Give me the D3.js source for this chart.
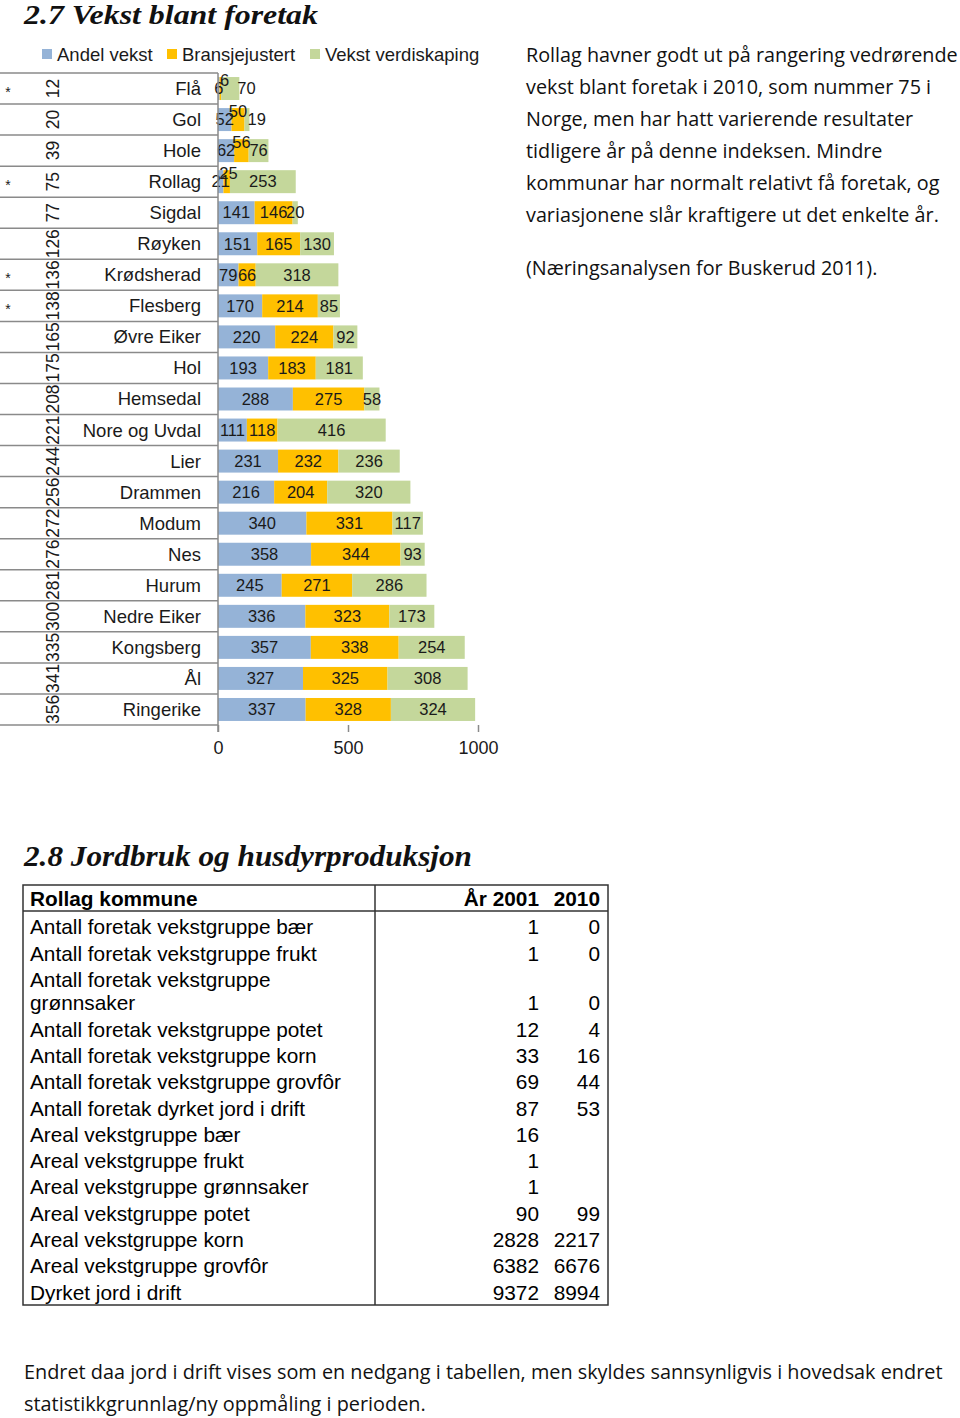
<!DOCTYPE html>
<html><head><meta charset="utf-8">
<script src="https://cdnjs.cloudflare.com/ajax/libs/d3/7.8.5/d3.min.js"></script>
<style>body{margin:0;background:#fff}</style>
</head><body><svg id="c" width="960" height="1418"></svg>
<script>
// ---------- Data: 2.7 Vekst blant foretak ----------
const kommuner = ["Flå","Gol","Hole","Rollag","Sigdal","Røyken","Krødsherad","Flesberg","Øvre Eiker","Hol","Hemsedal","Nore og Uvdal","Lier","Drammen","Modum","Nes","Hurum","Nedre Eiker","Kongsberg","Ål","Ringerike"];
const rangering = [12,20,39,75,77,126,136,138,165,175,208,221,244,256,272,276,281,300,335,341,356];
const stjerne = ["*","","","*","","","*","*","","","","","","","","","","","","",""];
const andelVekst = [6,52,62,21,141,151,79,170,220,193,288,111,231,216,340,358,245,336,357,327,337];
const bransjejustert = [6,50,56,25,146,165,66,214,224,183,275,118,232,204,331,344,271,323,338,325,328];
const vekstVerdiskaping = [70,19,76,253,20,130,318,85,92,181,58,416,236,320,117,93,286,173,254,308,324];
const serieNavn = ["Andel vekst","Bransjejustert","Vekst verdiskaping"];
const xTicks = [0,500,1000];

// ---------- Data: 2.8 Jordbruk og husdyrproduksjon ----------
const tabellRader = [
  ["Antall foretak vekstgruppe bær"],
  ["Antall foretak vekstgruppe frukt"],
  ["Antall foretak vekstgruppe","grønnsaker"],
  ["Antall foretak vekstgruppe potet"],
  ["Antall foretak vekstgruppe korn"],
  ["Antall foretak vekstgruppe grovfôr"],
  ["Antall foretak dyrket jord i drift"],
  ["Areal vekstgruppe bær"],
  ["Areal vekstgruppe frukt"],
  ["Areal vekstgruppe grønnsaker"],
  ["Areal vekstgruppe potet"],
  ["Areal vekstgruppe korn"],
  ["Areal vekstgruppe grovfôr"],
  ["Dyrket jord i drift"]
];
const aar2001 = [1,1,1,12,33,69,87,16,1,1,90,2828,6382,9372];
const aar2010 = [0,0,0,4,16,44,53,null,null,null,99,2217,6676,8994];
const tabellHode = ["Rollag kommune","År 2001","2010"];

const tekst1 = [
  "Rollag havner godt ut på rangering vedrørende",
  "vekst blant foretak i 2010, som nummer 75 i",
  "Norge, men har hatt varierende resultater",
  "tidligere år på denne indeksen. Mindre",
  "kommunar har normalt relativt få foretak, og",
  "variasjonene slår kraftigere ut det enkelte år."
];
const kilde = "(Næringsanalysen for Buskerud 2011).";
const tekst2 = [
  "Endret daa jord i drift vises som en nedgang i tabellen, men skyldes sannsynligvis i hovedsak endret",
  "statistikkgrunnlag/ny oppmåling i perioden."
];

// ---------- Drawing ----------
const svg = d3.select("#c");
const sans = "'Liberation Sans', Arial, sans-serif";
const serif = "'Liberation Serif', 'DejaVu Serif', serif";
const body = "'Open Sans', Lato, sans-serif";
const colors = ["#95B3D7","#FFC000","#C4D79B"];
const txt = "#1a1a1a";

// fit a paragraph font size so that a reference line gets a target width
function fitSize(family, sample, target, base){
  const t = svg.append("text").attr("font-family",family).attr("font-size",base).text(sample);
  const w = t.node().getComputedTextLength(); t.remove();
  return base*target/w;
}

svg.append("text").attr("x",24).attr("y",24)
  .attr("font-family",serif).attr("font-weight","bold").attr("font-style","italic")
  .attr("font-size",26.5).attr("fill","#111").attr("textLength",294).attr("lengthAdjust","spacingAndGlyphs")
  .text("2.7 Vekst blant foretak");

// legend
const legX = [42,167,310];
serieNavn.forEach((n,i)=>{
  svg.append("rect").attr("x",legX[i]).attr("y",49).attr("width",10).attr("height",10).attr("fill",colors[i]);
  svg.append("text").attr("x",legX[i]+15).attr("y",61).attr("font-family",sans).attr("font-size",18.5)
    .attr("fill",txt).text(n);
});

const x = d3.scaleLinear().domain([0,1000]).range([218,478]);
const y = d3.scaleBand().domain(kommuner).range([73,725]).paddingInner(0.26).paddingOuter(0.13);

const rows = kommuner.map((k,i)=>({k, a:andelVekst[i], b:bransjejustert[i], c:vekstVerdiskaping[i]}));
const stack = d3.stack().keys(["a","b","c"])(rows);

// row separator lines
const step = y.step();
d3.range(kommuner.length+1).forEach(i=>{
  const yy = y.range()[0] + i*step;
  svg.append("line").attr("x1",0).attr("x2",x(0)).attr("y1",yy).attr("y2",yy)
    .attr("stroke","#8a8a8a").attr("stroke-width",1.5);
});

// bars
stack.forEach((s,si)=>{
  svg.append("g").selectAll("rect").data(s).join("rect")
    .attr("x",d=>x(d[0])).attr("width",d=>x(d[1])-x(d[0]))
    .attr("y",d=>y(d.data.k)).attr("height",y.bandwidth())
    .attr("fill",colors[si]);
});

// bar labels
stack.forEach((s,si)=>{
  svg.append("g").selectAll("text").data(s).join("text")
    .attr("font-family",sans).attr("font-size",16.5).attr("fill",txt)
    .attr("dy","0.35em")
    .each(function(d){
      const w = x(d[1])-x(d[0]);
      let cx = (x(d[0])+x(d[1]))/2, cy = y(d.data.k)+y.bandwidth()/2, anchor="middle";
      if (si===1 && w<16) { cy -= 8; cx = Math.max(cx, x(d[0])+5); }
      if (si===2 && d[1]<150) { cx = x(d[1])-2; anchor="start"; }
      d3.select(this).attr("x",cx).attr("y",cy).attr("text-anchor",anchor).text(d[1]-d[0]);
    });
});

// category labels
kommuner.forEach((k,i)=>{
  const cy = y(k)+y.bandwidth()/2;
  svg.append("text").attr("x",201).attr("y",cy).attr("dy","0.35em").attr("text-anchor","end")
    .attr("font-family",sans).attr("font-size",18.5).attr("fill",txt).text(k);
  svg.append("text").attr("transform",`translate(53,${cy}) rotate(-90)`).attr("dy","0.35em")
    .attr("text-anchor","middle").attr("font-family",sans).attr("font-size",17.5).attr("fill",txt).text(rangering[i]);
  if (stjerne[i]) svg.append("text").attr("x",8).attr("y",cy+8).attr("text-anchor","middle")
    .attr("font-family",sans).attr("font-size",14).attr("fill",txt).text(stjerne[i]);
});

// axes
svg.append("line").attr("x1",x(0)).attr("x2",x(0)).attr("y1",73).attr("y2",732)
  .attr("stroke","#8a8a8a").attr("stroke-width",1.5);
const ax = svg.append("g").attr("transform","translate(0,725)")
  .call(d3.axisBottom(x).tickValues(xTicks).tickSize(7).tickPadding(9).tickFormat(d3.format("d")));
ax.select(".domain").remove();
ax.selectAll("line").attr("stroke","#8a8a8a").attr("stroke-width",1.5);
ax.selectAll("text").attr("font-family",sans).attr("font-size",18).attr("fill",txt);

// right paragraph
const fs1 = fitSize(body, tekst1[0], 432, 20);
tekst1.forEach((t,i)=>{
  svg.append("text").attr("x",526).attr("y",62+i*32).attr("font-family",body).attr("font-size",fs1)
    .attr("fill","#111").text(t);
});
svg.append("text").attr("x",526).attr("y",275).attr("font-family",body).attr("font-size",fs1)
  .attr("fill","#111").text(kilde);

// ---------- 2.8 ----------
svg.append("text").attr("x",24).attr("y",866)
  .attr("font-family",serif).attr("font-weight","bold").attr("font-style","italic")
  .attr("font-size",29).attr("fill","#111").attr("textLength",448).attr("lengthAdjust","spacingAndGlyphs")
  .text("2.8 Jordbruk og husdyrproduksjon");

const tb = {l:23, r:608, t:885, b:1305, div:375, head:911, c1:539, c2:600};
svg.append("rect").attr("x",tb.l).attr("y",tb.t).attr("width",tb.r-tb.l).attr("height",tb.b-tb.t)
  .attr("fill","none").attr("stroke","#333").attr("stroke-width",1.5);
svg.append("line").attr("x1",tb.div).attr("x2",tb.div).attr("y1",tb.t).attr("y2",tb.b).attr("stroke","#333").attr("stroke-width",1.5);
svg.append("line").attr("x1",tb.l).attr("x2",tb.r).attr("y1",tb.head).attr("y2",tb.head).attr("stroke","#333").attr("stroke-width",1.5);

const tf = 20.8;
svg.append("text").attr("x",30).attr("y",899).attr("dy","0.35em").attr("font-family",sans).attr("font-weight","bold")
  .attr("font-size",tf).attr("fill","#000").text(tabellHode[0]);
svg.append("text").attr("x",tb.c1).attr("y",899).attr("dy","0.35em").attr("text-anchor","end").attr("font-family",sans).attr("font-weight","bold")
  .attr("font-size",tf).attr("fill","#000").text(tabellHode[1]);
svg.append("text").attr("x",tb.c2).attr("y",899).attr("dy","0.35em").attr("text-anchor","end").attr("font-family",sans).attr("font-weight","bold")
  .attr("font-size",tf).attr("fill","#000").text(tabellHode[2]);

let cy = 927;
tabellRader.forEach((r,i)=>{
  r.forEach((line,j)=>{
    if (j>0) cy += 23.5;
    svg.append("text").attr("x",30).attr("y",cy).attr("dy","0.35em").attr("font-family",sans)
      .attr("font-size",tf).attr("fill","#000").text(line);
  });
  if (aar2001[i]!=null) svg.append("text").attr("x",tb.c1).attr("y",cy).attr("dy","0.35em").attr("text-anchor","end")
    .attr("font-family",sans).attr("font-size",tf).attr("fill","#000").text(aar2001[i]);
  if (aar2010[i]!=null) svg.append("text").attr("x",tb.c2).attr("y",cy).attr("dy","0.35em").attr("text-anchor","end")
    .attr("font-family",sans).attr("font-size",tf).attr("fill","#000").text(aar2010[i]);
  cy += 26.3;
});

const fs2 = fitSize(body, tekst2[0], 919, 20);
tekst2.forEach((t,i)=>{
  svg.append("text").attr("x",24).attr("y",1379+i*32).attr("font-family",body).attr("font-size",fs2)
    .attr("fill","#111").text(t);
});
</script></body></html>
